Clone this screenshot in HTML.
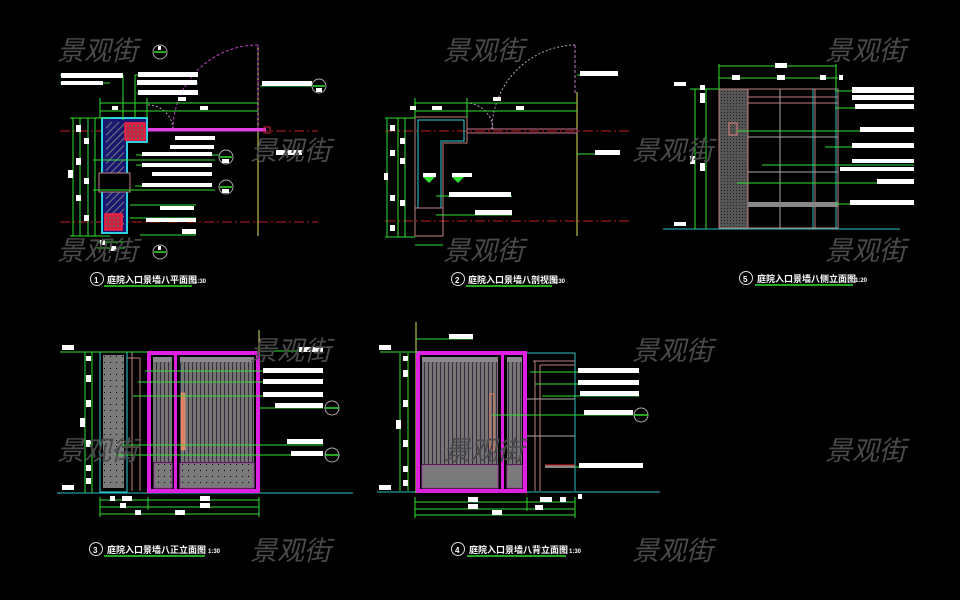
<!DOCTYPE html>
<html><head><meta charset="utf-8"><style>
html,body{margin:0;padding:0;background:#000;width:960px;height:600px;overflow:hidden}
svg{display:block}
.wm{font-family:"Liberation Sans","Noto Sans CJK SC",sans-serif;font-size:27px;fill:#4a4a4a;font-style:italic}
.tt{font-family:"Liberation Sans","Noto Sans CJK SC",sans-serif;font-size:9px;font-weight:bold;fill:#fff}
.sm{font-family:"Liberation Sans",sans-serif;font-size:6px;font-weight:bold;fill:#fff}
.cn{font-family:"Liberation Sans",sans-serif;font-size:8px;font-weight:bold;fill:#fff}
</style></head><body>
<svg width="960" height="600" viewBox="0 0 960 600" xmlns="http://www.w3.org/2000/svg">
<defs>
<pattern id="dots" width="6" height="6" patternUnits="userSpaceOnUse"><rect width="6" height="6" fill="#7a7a7a"/><rect x="2" y="2" width="1" height="1" fill="#000"/></pattern>
<pattern id="fdots" width="3" height="3" patternUnits="userSpaceOnUse"><rect width="3" height="3" fill="#555"/><rect x="1" y="1" width="1" height="1" fill="#222"/></pattern>
<pattern id="stripes" width="4" height="4" patternUnits="userSpaceOnUse"><rect width="4" height="4" fill="#747474"/><rect x="0" width="1" height="4" fill="#3a2a44"/></pattern>
<pattern id="hatch" width="5" height="5" patternUnits="userSpaceOnUse" patternTransform="rotate(45)"><rect width="5" height="5" fill="#181870"/><rect width="1" height="5" fill="#7a7a7a"/></pattern>
<pattern id="rhatch" width="4" height="4" patternUnits="userSpaceOnUse"><rect width="4" height="4" fill="#d02040"/><circle cx="2" cy="2" r="1" fill="#666"/></pattern>
</defs>

<!-- ========== PANEL 1 (plan) ========== -->
<g>
<line x1="60" y1="131" x2="318" y2="131" stroke="#c02020" stroke-dasharray="10,3,2,3"/>
<line x1="60" y1="222" x2="318" y2="222" stroke="#c02020" stroke-dasharray="10,3,2,3"/>
<line x1="258" y1="45" x2="258" y2="236" stroke="#e0e060"/>
<line x1="258" y1="45" x2="258" y2="128" stroke="#c040c0" stroke-dasharray="3,2"/>
<path d="M258 45 A85 85 0 0 0 173 130" fill="none" stroke="#c040c0" stroke-dasharray="3,2"/>
<path d="M148 105 A25 25 0 0 1 173 130" fill="none" stroke="#c0a0c0" stroke-dasharray="2,2"/>
<rect x="146" y="128" width="120" height="3.5" fill="#e040e0"/>
<rect x="264" y="127" width="6" height="6" fill="none" stroke="#d02040"/>
<path d="M102 118 H147 V142 H127 V233 H102 Z" fill="#181870" stroke="#30d0e0" stroke-width="2"/>
<path d="M106 122 H124 V229 H106 Z" fill="url(#hatch)"/>
<rect x="99" y="173" width="31" height="19" fill="#000" stroke="#c08080"/>
<rect x="125" y="123" width="20" height="17" fill="url(#rhatch)" stroke="#ff2040" stroke-width="1.5"/>
<rect x="105" y="214" width="17" height="16" fill="url(#rhatch)" stroke="#ff2040" stroke-width="1.5"/>
<g stroke="#30e030" fill="none">
<line x1="73" y1="118" x2="73" y2="236"/><line x1="80" y1="118" x2="80" y2="236"/><line x1="88" y1="118" x2="88" y2="236"/><line x1="95" y1="118" x2="95" y2="236"/>
<line x1="70" y1="118" x2="110" y2="118"/><line x1="70" y1="236" x2="110" y2="236"/>
<line x1="100" y1="103" x2="258" y2="103"/><line x1="100" y1="111" x2="258" y2="111"/>
<line x1="100" y1="98" x2="100" y2="118"/><line x1="147" y1="98" x2="147" y2="118"/>
<line x1="97" y1="242" x2="125" y2="242"/><line x1="97" y1="248" x2="125" y2="248"/>
<line x1="93" y1="160" x2="215" y2="160"/><line x1="93" y1="190" x2="215" y2="190"/>
<line x1="136" y1="155" x2="220" y2="155"/><line x1="136" y1="165" x2="200" y2="165"/>
<line x1="135" y1="186" x2="200" y2="186"/><line x1="130" y1="205" x2="196" y2="205"/>
<line x1="130" y1="218" x2="196" y2="218"/><line x1="140" y1="235" x2="196" y2="235"/>
<line x1="60" y1="75" x2="123" y2="75"/><line x1="60" y1="83" x2="110" y2="83"/>
<line x1="135" y1="75" x2="198" y2="75"/><line x1="137" y1="83" x2="198" y2="83"/><line x1="137" y1="93" x2="198" y2="93"/>
<line x1="260" y1="86" x2="312" y2="86"/>
<line x1="123" y1="75" x2="123" y2="120"/><line x1="135" y1="75" x2="135" y2="118"/>
</g>
<g fill="#fff">
<rect x="61" y="73" width="62" height="5"/><rect x="61" y="81" width="42" height="4"/>
<rect x="138" y="72" width="60" height="5"/><rect x="137" y="80" width="60" height="5"/><rect x="138" y="90" width="60" height="5"/>
<rect x="262" y="81" width="50" height="5"/><rect x="276" y="150" width="26" height="5"/>
<rect x="175" y="136" width="40" height="4"/><rect x="170" y="145" width="44" height="4"/>
<rect x="142" y="152" width="70" height="4"/><rect x="142" y="163" width="70" height="4"/>
<rect x="152" y="172" width="60" height="4"/><rect x="142" y="183" width="70" height="4"/>
<rect x="160" y="206" width="34" height="4"/><rect x="146" y="218" width="50" height="4"/>
<rect x="182" y="229" width="14" height="5"/>
<rect x="76" y="125" width="5" height="7"/><rect x="84" y="138" width="5" height="6"/><rect x="76" y="158" width="5" height="7"/><rect x="84" y="178" width="5" height="6"/><rect x="76" y="195" width="5" height="6"/><rect x="84" y="215" width="5" height="6"/><rect x="68" y="170" width="5" height="8"/>
<rect x="112" y="106" width="6" height="4"/><rect x="200" y="106" width="8" height="4"/><rect x="178" y="97" width="8" height="4"/>
<rect x="100" y="240" width="5" height="5"/><rect x="110" y="246" width="6" height="5"/>
</g>
<g stroke="#aaa" fill="none">
<circle cx="160" cy="52" r="7"/><circle cx="319" cy="86" r="7"/><circle cx="226" cy="157" r="7"/><circle cx="226" cy="187" r="7"/><circle cx="160" cy="252" r="7"/>
</g>
<g stroke="#30e030" stroke-width="1.5"><line x1="313" y1="86" x2="325" y2="86"/><line x1="220" y1="157" x2="232" y2="157"/><line x1="220" y1="187" x2="232" y2="187"/><line x1="154" y1="52" x2="166" y2="52"/><line x1="154" y1="252" x2="166" y2="252"/></g>
<g fill="#fff"><rect x="158" y="46" width="3" height="4"/><rect x="316" y="88" width="6" height="4"/><rect x="222" y="159" width="7" height="4"/><rect x="222" y="189" width="7" height="4"/><rect x="158" y="246" width="3" height="4"/></g>
<circle cx="97" cy="279" r="6.5" fill="none" stroke="#ddd"/><text x="94" y="283" class="cn">1</text>
<text x="107" y="283" class="tt">庭院入口景墙八平面图</text><text x="194" y="283" class="sm">1:30</text>
<line x1="104" y1="286" x2="192" y2="286" stroke="#30e030" stroke-width="1.5"/>
</g>

<!-- ========== PANEL 2 (section) ========== -->
<g>
<line x1="385" y1="131" x2="630" y2="131" stroke="#c02020" stroke-dasharray="10,3,2,3"/>
<line x1="385" y1="221" x2="630" y2="221" stroke="#c02020" stroke-dasharray="10,3,2,3"/>
<line x1="577" y1="92" x2="577" y2="236" stroke="#e0e060"/>
<line x1="575" y1="45" x2="575" y2="95" stroke="#c080c0" stroke-dasharray="3,2"/>
<path d="M575 45 A85 85 0 0 0 492 130" fill="none" stroke="#c0a0c0" stroke-dasharray="2,2"/>
<path d="M466 103 A27 27 0 0 1 493 130" fill="none" stroke="#c0a0c0" stroke-dasharray="2,2"/>
<rect x="467" y="129" width="110" height="4" fill="none" stroke="#d07090"/>
<path d="M415 117 H467 V143 H443 V236 H415 Z" fill="none" stroke="#c08080"/>
<path d="M418 120 H464 V141 H441 V208 H418 Z" fill="none" stroke="#30d0e0"/>
<line x1="415" y1="208" x2="443" y2="208" stroke="#c08080"/>
<g stroke="#30e030" fill="none">
<line x1="387" y1="118" x2="387" y2="237"/><line x1="398" y1="118" x2="398" y2="237"/><line x1="405" y1="118" x2="405" y2="237"/>
<line x1="385" y1="118" x2="415" y2="118"/><line x1="385" y1="237" x2="415" y2="237"/>
<line x1="415" y1="103" x2="577" y2="103"/><line x1="415" y1="111" x2="577" y2="111"/>
<line x1="415" y1="98" x2="415" y2="118"/><line x1="467" y1="98" x2="467" y2="118"/>
<line x1="415" y1="245" x2="443" y2="245"/>
<line x1="436" y1="196" x2="512" y2="196"/><line x1="436" y1="215" x2="512" y2="215"/>
<line x1="577" y1="75" x2="618" y2="75"/><line x1="577" y1="154" x2="620" y2="154"/>
</g>
<path d="M423 177 h12 l-6 6 z M452 177 h12 l-6 6 z" fill="#30e030"/>
<g fill="#fff">
<rect x="580" y="71" width="38" height="5"/><rect x="595" y="150" width="25" height="5"/>
<rect x="449" y="192" width="62" height="5"/><rect x="475" y="210" width="37" height="5"/>
<rect x="423" y="173" width="13" height="4"/><rect x="452" y="173" width="20" height="4"/>
<rect x="390" y="125" width="5" height="6"/><rect x="400" y="138" width="5" height="6"/><rect x="390" y="150" width="5" height="6"/><rect x="400" y="158" width="5" height="6"/><rect x="390" y="195" width="5" height="6"/><rect x="400" y="200" width="5" height="6"/><rect x="390" y="225" width="5" height="6"/><rect x="384" y="173" width="4" height="7"/>
<rect x="493" y="97" width="8" height="4"/><rect x="516" y="106" width="8" height="4"/><rect x="432" y="106" width="10" height="4"/><rect x="410" y="106" width="6" height="4"/>
</g>
<circle cx="458" cy="279" r="6.5" fill="none" stroke="#ddd"/><text x="455" y="283" class="cn">2</text>
<text x="468" y="283" class="tt">庭院入口景墙八剖视图</text><text x="553" y="283" class="sm">1:30</text>
<line x1="466" y1="286" x2="552" y2="286" stroke="#30e030" stroke-width="1.5"/>
</g>

<!-- ========== PANEL 5 (side elevation) ========== -->
<g>
<line x1="663" y1="229" x2="900" y2="229" stroke="#30c0c0"/>
<rect x="719" y="89" width="29" height="139" fill="url(#fdots)" stroke="#c08080"/>
<rect x="748" y="89" width="90" height="139" fill="none" stroke="#c08080"/>
<g stroke="#aaa" fill="none">
<line x1="748" y1="97" x2="838" y2="97" stroke="#c08080"/><line x1="748" y1="103" x2="838" y2="103" stroke="#c08080"/>
<line x1="748" y1="137" x2="838" y2="137"/><line x1="748" y1="172" x2="838" y2="172"/>
<line x1="780" y1="89" x2="780" y2="228"/><line x1="813" y1="89" x2="813" y2="228" stroke="#30c0c0"/><line x1="815" y1="89" x2="815" y2="228" stroke="#c08080"/>
<line x1="836" y1="89" x2="836" y2="228" stroke="#30c0c0"/>
</g>
<rect x="748" y="202" width="90" height="5" fill="#888"/>
<rect x="729" y="123" width="8" height="12" fill="none" stroke="#e08080"/>
<g stroke="#30e030" fill="none">
<line x1="719" y1="66" x2="836" y2="66"/><line x1="719" y1="78" x2="838" y2="78"/>
<line x1="719" y1="64" x2="719" y2="89"/><line x1="836" y1="64" x2="836" y2="89"/>
<line x1="695" y1="89" x2="695" y2="229"/><line x1="706" y1="89" x2="706" y2="229"/>
<line x1="690" y1="89" x2="719" y2="89"/>
<line x1="835" y1="91" x2="914" y2="91"/><line x1="835" y1="108" x2="914" y2="108"/>
<line x1="737" y1="131" x2="914" y2="131"/><line x1="825" y1="147" x2="914" y2="147"/><line x1="762" y1="165" x2="914" y2="165"/>
<line x1="737" y1="183" x2="914" y2="183"/><line x1="835" y1="204" x2="914" y2="204"/>
</g>
<g fill="#fff">
<rect x="852" y="87" width="62" height="6"/><rect x="852" y="95" width="62" height="5"/><rect x="855" y="104" width="59" height="5"/>
<rect x="860" y="127" width="54" height="5"/><rect x="852" y="143" width="62" height="5"/><rect x="852" y="159" width="62" height="4"/><rect x="840" y="167" width="74" height="4"/>
<rect x="877" y="179" width="37" height="5"/><rect x="850" y="200" width="64" height="5"/>
<rect x="775" y="63" width="12" height="5"/><rect x="732" y="75" width="8" height="5"/><rect x="777" y="75" width="8" height="5"/><rect x="820" y="75" width="6" height="5"/><rect x="839" y="75" width="4" height="5"/>
<rect x="674" y="82" width="12" height="4"/><rect x="674" y="222" width="12" height="4"/>
<rect x="700" y="85" width="5" height="5"/><rect x="700" y="93" width="5" height="10"/><rect x="690" y="156" width="5" height="8"/><rect x="700" y="163" width="5" height="8"/>
</g>
<circle cx="746" cy="278" r="6.5" fill="none" stroke="#ddd"/><text x="743" y="282" class="cn">5</text>
<text x="757" y="282" class="tt">庭院入口景墙八侧立面图</text><text x="855" y="282" class="sm">1:20</text>
<line x1="755" y1="285" x2="853" y2="285" stroke="#30e030" stroke-width="1.5"/>
</g>

<!-- ========== PANEL 3 (front elevation) ========== -->
<g>
<line x1="57" y1="493" x2="353" y2="493" stroke="#30c0c0"/>
<line x1="259" y1="330" x2="259" y2="493" stroke="#e0e060"/>
<rect x="100" y="352" width="27" height="140" fill="none" stroke="#30d0e0"/>
<rect x="103" y="355" width="21" height="133" fill="url(#dots)"/>
<g stroke="#c08080" fill="none"><line x1="127" y1="352" x2="148" y2="352"/><line x1="132" y1="352" x2="132" y2="491"/><line x1="140" y1="358" x2="140" y2="491"/><line x1="127" y1="358" x2="140" y2="358"/></g>
<rect x="149" y="353" width="109" height="138" fill="none" stroke="#e020e0" stroke-width="4"/>
<rect x="174" y="353" width="3" height="138" fill="#e020e0"/>
<rect x="153" y="357" width="19" height="105" fill="url(#stripes)"/>
<rect x="180" y="357" width="74" height="105" fill="url(#stripes)"/>
<rect x="153" y="357" width="19" height="5" fill="#888"/><rect x="180" y="357" width="74" height="5" fill="#888"/>
<rect x="154" y="463" width="18" height="25" fill="url(#dots)" stroke="#a040a0"/>
<rect x="180" y="463" width="74" height="25" fill="url(#dots)" stroke="#a040a0"/>
<rect x="181" y="393" width="4" height="57" fill="#e08060" stroke="#e0a080" stroke-width=".5"/>
<g stroke="#30e030" fill="none">
<line x1="85" y1="352" x2="85" y2="493"/><line x1="92" y1="352" x2="92" y2="493"/>
<line x1="60" y1="352" x2="148" y2="352"/>
<line x1="100" y1="500" x2="259" y2="500"/><line x1="100" y1="507" x2="259" y2="507"/><line x1="100" y1="514" x2="259" y2="514"/>
<line x1="100" y1="497" x2="100" y2="517"/><line x1="259" y1="497" x2="259" y2="517"/><line x1="148" y1="497" x2="148" y2="510"/>
<line x1="259" y1="351" x2="323" y2="351"/><line x1="145" y1="371" x2="323" y2="371"/><line x1="138" y1="382" x2="323" y2="382"/><line x1="133" y1="396" x2="323" y2="396"/>
<line x1="259" y1="408" x2="323" y2="408"/><line x1="120" y1="445" x2="323" y2="445"/><line x1="115" y1="455" x2="323" y2="455"/>
</g>
<g fill="#fff">
<rect x="299" y="347" width="24" height="5"/><rect x="263" y="368" width="60" height="5"/><rect x="263" y="379" width="60" height="5"/><rect x="263" y="392" width="60" height="5"/>
<rect x="275" y="403" width="48" height="5"/><rect x="287" y="439" width="36" height="5"/><rect x="291" y="451" width="32" height="5"/>
<rect x="62" y="345" width="12" height="5"/><rect x="62" y="485" width="12" height="5"/>
<rect x="86" y="356" width="5" height="5"/><rect x="86" y="375" width="5" height="7"/><rect x="86" y="400" width="5" height="7"/><rect x="80" y="418" width="5" height="9"/><rect x="86" y="440" width="5" height="7"/><rect x="86" y="465" width="5" height="6"/><rect x="86" y="478" width="5" height="6"/>
<rect x="110" y="496" width="5" height="5"/><rect x="122" y="496" width="10" height="5"/><rect x="200" y="496" width="10" height="5"/><rect x="120" y="503" width="6" height="5"/><rect x="200" y="503" width="10" height="5"/><rect x="135" y="510" width="6" height="5"/><rect x="175" y="510" width="10" height="5"/>
</g>
<g stroke="#aaa" fill="none"><circle cx="332" cy="408" r="7"/><circle cx="332" cy="455" r="7"/></g>
<g stroke="#30e030" stroke-width="1.5"><line x1="325" y1="408" x2="339" y2="408"/><line x1="325" y1="455" x2="339" y2="455"/></g>
<circle cx="96" cy="549" r="6.5" fill="none" stroke="#ddd"/><text x="93" y="553" class="cn">3</text>
<text x="107" y="553" class="tt">庭院入口景墙八正立面图</text><text x="208" y="553" class="sm">1:30</text>
<line x1="104" y1="556" x2="205" y2="556" stroke="#30e030" stroke-width="1.5"/>
</g>

<!-- ========== PANEL 4 (back elevation) ========== -->
<g>
<line x1="377" y1="492" x2="660" y2="492" stroke="#30c0c0"/>
<line x1="416" y1="322" x2="416" y2="493" stroke="#e0e060"/>
<rect x="418" y="353" width="107" height="138" fill="none" stroke="#e020e0" stroke-width="4"/>
<rect x="501" y="353" width="3" height="138" fill="#e020e0"/>
<rect x="422" y="357" width="76" height="107" fill="url(#stripes)"/>
<rect x="507" y="357" width="15" height="107" fill="url(#stripes)"/>
<rect x="422" y="357" width="76" height="5" fill="#888"/><rect x="507" y="357" width="15" height="5" fill="#888"/>
<rect x="422" y="465" width="76" height="23" fill="#7a7a7a" stroke="#a040a0"/>
<rect x="507" y="465" width="15" height="23" fill="#7a7a7a" stroke="#a040a0"/>
<rect x="490" y="394" width="4" height="56" fill="none" stroke="#e08060"/>
<g stroke="#30c0c0" fill="none"><path d="M527 353 H575 V491"/><line x1="527" y1="399" x2="575" y2="399" stroke="#aaa"/><line x1="527" y1="436" x2="575" y2="436" stroke="#aaa"/></g>
<g stroke="#c08080" fill="none"><path d="M533 361 H575"/><path d="M540 365 H575 M540 365 V491"/><line x1="535" y1="361" x2="535" y2="491"/></g>
<rect x="545" y="465" width="30" height="3" fill="#888"/><line x1="545" y1="465" x2="575" y2="465" stroke="#e02020"/>
<g stroke="#30e030" fill="none">
<line x1="400" y1="353" x2="400" y2="491"/><line x1="408" y1="353" x2="408" y2="491"/>
<line x1="380" y1="352" x2="418" y2="352"/>
<line x1="415" y1="502" x2="575" y2="502"/><line x1="415" y1="509" x2="575" y2="509"/><line x1="415" y1="515" x2="575" y2="515"/>
<line x1="415" y1="497" x2="415" y2="518"/><line x1="575" y1="497" x2="575" y2="518"/><line x1="527" y1="497" x2="527" y2="511"/>
<line x1="416" y1="339" x2="473" y2="339"/>
<line x1="530" y1="372" x2="639" y2="372"/><line x1="535" y1="384" x2="639" y2="384"/><line x1="542" y1="396" x2="639" y2="396"/><line x1="492" y1="415" x2="633" y2="415"/><line x1="575" y1="467" x2="643" y2="467"/>
</g>
<g fill="#fff">
<rect x="449" y="334" width="24" height="5"/><rect x="578" y="368" width="61" height="5"/><rect x="578" y="380" width="61" height="5"/><rect x="580" y="391" width="59" height="5"/>
<rect x="584" y="410" width="49" height="5"/><rect x="579" y="463" width="64" height="5"/>
<rect x="379" y="345" width="12" height="5"/><rect x="379" y="485" width="12" height="5"/>
<rect x="403" y="356" width="5" height="5"/><rect x="403" y="370" width="5" height="7"/><rect x="403" y="400" width="5" height="7"/><rect x="396" y="420" width="5" height="9"/><rect x="403" y="440" width="5" height="7"/><rect x="403" y="466" width="5" height="6"/><rect x="403" y="480" width="5" height="6"/>
<rect x="468" y="497" width="10" height="5"/><rect x="468" y="504" width="10" height="5"/><rect x="492" y="510" width="10" height="5"/><rect x="540" y="497" width="12" height="5"/><rect x="560" y="497" width="6" height="5"/><rect x="535" y="505" width="8" height="5"/><rect x="578" y="494" width="4" height="5"/>
</g>
<circle cx="641" cy="415" r="7" fill="none" stroke="#aaa"/><line x1="634" y1="415" x2="648" y2="415" stroke="#30e030" stroke-width="1.5"/>
<circle cx="458" cy="549" r="6.5" fill="none" stroke="#ddd"/><text x="455" y="553" class="cn">4</text>
<text x="469" y="553" class="tt">庭院入口景墙八背立面图</text><text x="569" y="553" class="sm">1:30</text>
<line x1="467" y1="556" x2="566" y2="556" stroke="#30e030" stroke-width="1.5"/>
</g>

<!-- watermarks -->
<g>
<text x="57" y="60" class="wm">景观街</text><text x="443" y="60" class="wm">景观街</text><text x="825" y="60" class="wm">景观街</text>
<text x="250" y="160" class="wm">景观街</text><text x="632" y="160" class="wm">景观街</text>
<text x="57" y="260" class="wm">景观街</text><text x="443" y="260" class="wm">景观街</text><text x="825" y="260" class="wm">景观街</text>
<text x="250" y="360" class="wm">景观街</text><text x="632" y="360" class="wm">景观街</text>
<text x="57" y="460" class="wm">景观街</text><text x="443" y="460" class="wm">景观街</text><text x="825" y="460" class="wm">景观街</text>
<text x="250" y="560" class="wm">景观街</text><text x="632" y="560" class="wm">景观街</text>
</g>
</svg>
</body></html>
